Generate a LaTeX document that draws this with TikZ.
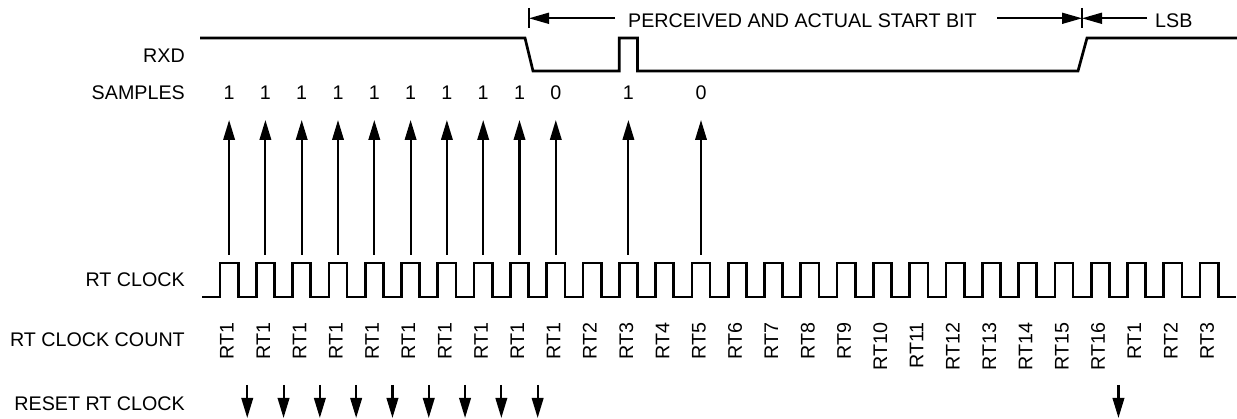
\documentclass[tikz,border=0pt]{standalone}
\usepackage{fontspec}
\setmainfont{Liberation Sans}
\usetikzlibrary{arrows.meta}
\begin{document}
\begin{tikzpicture}[x=1pt,y=1pt,
  lbl/.style={anchor=base east,inner sep=0pt,font=\fontsize{19.7}{22}\selectfont},
  txt/.style={inner sep=0pt,font=\fontsize{19.7}{22}\selectfont},
  cnt/.style={txt,rotate=90,anchor=base east},
  wave/.style={line width=2.7pt,line join=miter},
  arr/.style={line width=2.1pt,-{Triangle[length=20pt,width=11.5pt]}},
  dimline/.style={line width=1.7pt},
  dimarr/.style={line width=1.7pt,-{Triangle[length=20pt,width=11pt]}},
]
\useasboundingbox (0,0) rectangle (1237,-419);

% row labels
\node[lbl] (lrxd) at (185,-63) {RXD};
\node[lbl] (lsam) at (185,-100) {SAMPLES};
\node[lbl] (lclk) at (185,-287) {RT CLOCK};
\node[lbl] (lcnt) at (185,-347) {RT CLOCK COUNT};
\node[lbl] (lrst) at (185,-410) {RESET RT CLOCK};

% RXD waveform
\draw[wave] (200,-38) -- (525,-38) -- (533,-71) -- (619.3,-71) -- (619.3,-38)
  -- (637.4,-38) -- (637.4,-71) -- (1078,-71) -- (1087,-38) -- (1237,-38);

% top dimension
\coordinate (barL) at (529,-18.3);
\coordinate (barR) at (1082,-18.3);
\coordinate (pl) at (615,-18.3);
\coordinate (pr) at (997,-18.3);
\coordinate (ll) at (1147,-18.3);
\draw[dimline] (529,-8) -- (529,-28);
\draw[dimline] (1082,-8) -- (1082,-28);
\node[txt,anchor=base west] (pab) at (628,-28) {PERCEIVED AND ACTUAL START BIT};
\node[txt,anchor=base west] (lsb) at (1155,-28) {LSB};
\draw[dimarr] (pl) -- (barL);
\draw[dimarr] (pr) -- (barR);
\draw[dimarr] (ll) -- (barR);

% RT clock
\draw[wave] (202,-297) foreach \i in {0,...,27} {
   -- ({220+36.3*\i},-297) -- ({220+36.3*\i},-263)
   -- ({238.15+36.3*\i},-263) -- ({238.15+36.3*\i},-297) } -- (1236,-297);

% count labels
\foreach \t [count=\i from 0] in {RT1,RT1,RT1,RT1,RT1,RT1,RT1,RT1,RT1,RT1,RT2,RT3,RT4,RT5,RT6,RT7,RT8,RT9,RT10,RT11,RT12,RT13,RT14,RT15,RT16,RT1,RT2,RT3}
  \node[cnt] (c\i) at ({229.1+36.3*\i+4.6},-322) {\t};

% samples and sample arrows
\foreach \i/\v in {0/1,1/1,2/1,3/1,4/1,5/1,6/1,7/1,8/1,9/0,11/1,13/0} {
  \node[txt,anchor=base] (s\i) at ({229.1+36.3*\i},-100) {\v};
  \coordinate (ub\i) at ({229.1+36.3*\i},-255);
  \coordinate (ut\i) at ({229.1+36.3*\i},-120);
  \draw[arr] (ub\i) -- (ut\i);
}

% reset arrows
\foreach \i in {0,...,8,24} {
  \coordinate (rt\i) at ({247.25+36.3*\i},-385);
  \coordinate (rb\i) at ({247.25+36.3*\i},-418);
  \draw[arr] (rt\i) -- (rb\i);
}
\end{tikzpicture}
\end{document}
